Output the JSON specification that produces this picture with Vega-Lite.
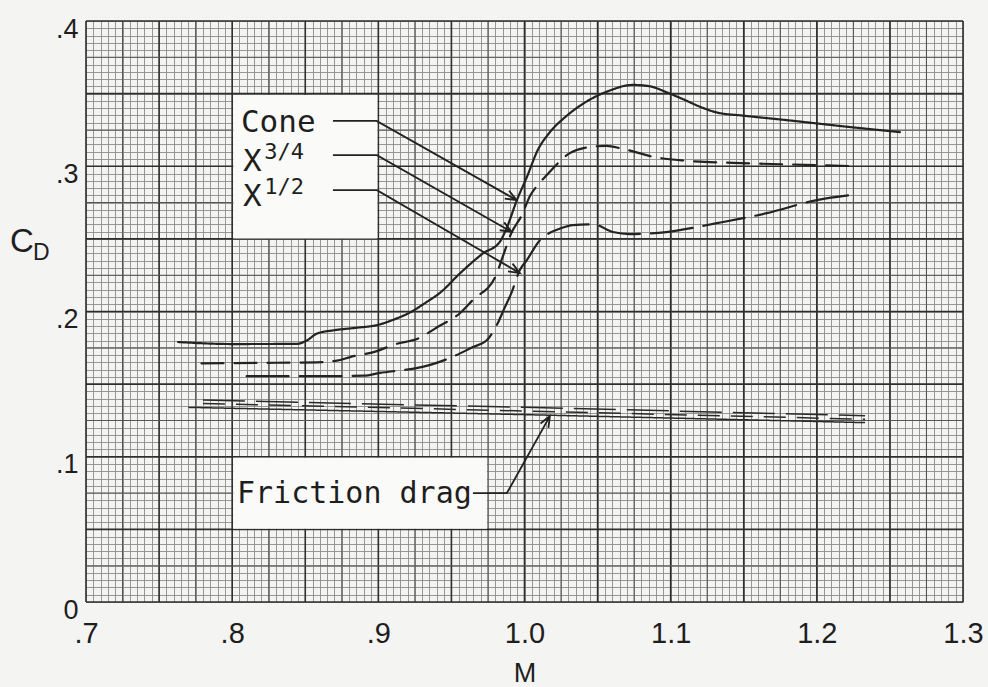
{
 "$schema": "https://vega.github.io/schema/vega-lite/v6.json",
 "width": 877, "height": 581,
 "autosize": {"type": "none"},
 "padding": {"left": 86, "top": 21, "right": 25, "bottom": 85},
 "background": "#f4f4f2",
 "config": {
  "view": {"stroke": null},
  "font": "Liberation Sans",
  "axisX": {"tickCount": 120, "grid": true, "gridColor": "#8c8c8c", "gridWidth": 0.9,
   "domain": false, "ticks": false, "labelOverlap": false, "labelFlush": false,
   "labelExpr": "abs(datum.value*10 - round(datum.value*10)) < 0.01 ? (datum.value < 0.99 ? replace(format(datum.value, '.1f'), '0.', '.') : format(datum.value, '.1f')) : ''",
   "labelFont": "Liberation Sans", "labelFontSize": 29, "labelColor": "#1e1e1e", "labelPadding": 17,
   "titleFont": "Liberation Sans", "titleFontSize": 27, "titleFontWeight": "normal", "titleColor": "#1e1e1e", "titlePadding": 12},
  "axisY": {"tickCount": 80, "grid": true, "gridColor": "#8c8c8c", "gridWidth": 0.9,
   "domain": false, "ticks": false, "labelOverlap": false, "labelFlush": false,
   "labelExpr": "abs(datum.value*10 - round(datum.value*10)) < 0.01 ? (abs(datum.value) < 0.001 ? '0' : replace(format(datum.value, '.1f'), '0.', '.')) : ''",
   "labelFont": "Liberation Sans", "labelFontSize": 27, "labelColor": "#1e1e1e", "labelPadding": 8, "labelOffset": 8}
 },
 "datasets": {
  "xmajor": [{"M":0.7},{"M":0.75},{"M":0.8},{"M":0.85},{"M":0.9},{"M":0.95},{"M":1.0},{"M":1.05},{"M":1.1},{"M":1.15},{"M":1.2},{"M":1.25},{"M":1.3}],
  "xmid": [{"M":0.725},{"M":0.775},{"M":0.825},{"M":0.875},{"M":0.925},{"M":0.975},{"M":1.025},{"M":1.075},{"M":1.125},{"M":1.175},{"M":1.225},{"M":1.275}],
  "ymajor": [{"CD":0},{"CD":0.05},{"CD":0.1},{"CD":0.15},{"CD":0.2},{"CD":0.25},{"CD":0.3},{"CD":0.35},{"CD":0.4}],
  "ymid": [{"CD":0.025},{"CD":0.075},{"CD":0.125},{"CD":0.175},{"CD":0.225},{"CD":0.275},{"CD":0.325},{"CD":0.375}],
  "boxes": [
   {"M":0.8008,"M2":0.8993,"CD":0.2503,"CD2":0.349},
   {"M":0.8008,"M2":0.9743,"CD":0.0505,"CD2":0.0993}
  ],
  "curves": [
   {"model":"Cone","part":"total","M":0.763,"CD":0.179},
   {"model":"Cone","part":"total","M":0.80,"CD":0.1776},
   {"model":"Cone","part":"total","M":0.844,"CD":0.1777},
   {"model":"Cone","part":"total","M":0.851,"CD":0.18},
   {"model":"Cone","part":"total","M":0.858,"CD":0.1848},
   {"model":"Cone","part":"total","M":0.869,"CD":0.187},
   {"model":"Cone","part":"total","M":0.885,"CD":0.1888},
   {"model":"Cone","part":"total","M":0.899,"CD":0.1906},
   {"model":"Cone","part":"total","M":0.912,"CD":0.195},
   {"model":"Cone","part":"total","M":0.922,"CD":0.1995},
   {"model":"Cone","part":"total","M":0.933,"CD":0.2065},
   {"model":"Cone","part":"total","M":0.942,"CD":0.2127},
   {"model":"Cone","part":"total","M":0.956,"CD":0.2264},
   {"model":"Cone","part":"total","M":0.9716,"CD":0.24},
   {"model":"Cone","part":"total","M":0.983,"CD":0.2478},
   {"model":"Cone","part":"total","M":0.988,"CD":0.258},
   {"model":"Cone","part":"total","M":0.9948,"CD":0.2767},
   {"model":"Cone","part":"total","M":1.0016,"CD":0.2925},
   {"model":"Cone","part":"total","M":1.009,"CD":0.311},
   {"model":"Cone","part":"total","M":1.017,"CD":0.323},
   {"model":"Cone","part":"total","M":1.028,"CD":0.334},
   {"model":"Cone","part":"total","M":1.04,"CD":0.343},
   {"model":"Cone","part":"total","M":1.058,"CD":0.352},
   {"model":"Cone","part":"total","M":1.074,"CD":0.356},
   {"model":"Cone","part":"total","M":1.086,"CD":0.355},
   {"model":"Cone","part":"total","M":1.097,"CD":0.351},
   {"model":"Cone","part":"total","M":1.11,"CD":0.3455},
   {"model":"Cone","part":"total","M":1.12,"CD":0.341},
   {"model":"Cone","part":"total","M":1.1316,"CD":0.337},
   {"model":"Cone","part":"total","M":1.15,"CD":0.3348},
   {"model":"Cone","part":"total","M":1.177,"CD":0.332},
   {"model":"Cone","part":"total","M":1.2226,"CD":0.327},
   {"model":"Cone","part":"total","M":1.2568,"CD":0.3235},
   {"model":"X3/4","part":"total","M":0.779,"CD":0.1643},
   {"model":"X3/4","part":"total","M":0.8,"CD":0.1645},
   {"model":"X3/4","part":"total","M":0.83,"CD":0.1647},
   {"model":"X3/4","part":"total","M":0.858,"CD":0.165},
   {"model":"X3/4","part":"total","M":0.874,"CD":0.1666},
   {"model":"X3/4","part":"total","M":0.8806,"CD":0.1686},
   {"model":"X3/4","part":"total","M":0.899,"CD":0.1727},
   {"model":"X3/4","part":"total","M":0.91,"CD":0.177},
   {"model":"X3/4","part":"total","M":0.9285,"CD":0.182},
   {"model":"X3/4","part":"total","M":0.94,"CD":0.189},
   {"model":"X3/4","part":"total","M":0.956,"CD":0.199},
   {"model":"X3/4","part":"total","M":0.9647,"CD":0.208},
   {"model":"X3/4","part":"total","M":0.98,"CD":0.2237},
   {"model":"X3/4","part":"total","M":0.985,"CD":0.2374},
   {"model":"X3/4","part":"total","M":0.991,"CD":0.254},
   {"model":"X3/4","part":"total","M":0.998,"CD":0.266},
   {"model":"X3/4","part":"total","M":1.004,"CD":0.28},
   {"model":"X3/4","part":"total","M":1.009,"CD":0.287},
   {"model":"X3/4","part":"total","M":1.0153,"CD":0.294},
   {"model":"X3/4","part":"total","M":1.031,"CD":0.309},
   {"model":"X3/4","part":"total","M":1.0427,"CD":0.313},
   {"model":"X3/4","part":"total","M":1.056,"CD":0.314},
   {"model":"X3/4","part":"total","M":1.067,"CD":0.312},
   {"model":"X3/4","part":"total","M":1.0906,"CD":0.306},
   {"model":"X3/4","part":"total","M":1.108,"CD":0.304},
   {"model":"X3/4","part":"total","M":1.154,"CD":0.302},
   {"model":"X3/4","part":"total","M":1.2,"CD":0.3008},
   {"model":"X3/4","part":"total","M":1.227,"CD":0.3},
   {"model":"X1/2","part":"total","M":0.8099,"CD":0.1555},
   {"model":"X1/2","part":"total","M":0.86,"CD":0.1555},
   {"model":"X1/2","part":"total","M":0.89,"CD":0.1558},
   {"model":"X1/2","part":"total","M":0.901,"CD":0.1577},
   {"model":"X1/2","part":"total","M":0.917,"CD":0.1597},
   {"model":"X1/2","part":"total","M":0.926,"CD":0.161},
   {"model":"X1/2","part":"total","M":0.949,"CD":0.168},
   {"model":"X1/2","part":"total","M":0.9647,"CD":0.1755},
   {"model":"X1/2","part":"total","M":0.974,"CD":0.18},
   {"model":"X1/2","part":"total","M":0.981,"CD":0.1906},
   {"model":"X1/2","part":"total","M":0.9866,"CD":0.203},
   {"model":"X1/2","part":"total","M":0.991,"CD":0.2127},
   {"model":"X1/2","part":"total","M":0.9968,"CD":0.2285},
   {"model":"X1/2","part":"total","M":1.0016,"CD":0.2354},
   {"model":"X1/2","part":"total","M":1.0105,"CD":0.249},
   {"model":"X1/2","part":"total","M":1.017,"CD":0.254},
   {"model":"X1/2","part":"total","M":1.024,"CD":0.257},
   {"model":"X1/2","part":"total","M":1.033,"CD":0.2595},
   {"model":"X1/2","part":"total","M":1.047,"CD":0.26},
   {"model":"X1/2","part":"total","M":1.0605,"CD":0.2547},
   {"model":"X1/2","part":"total","M":1.072,"CD":0.2533},
   {"model":"X1/2","part":"total","M":1.097,"CD":0.2547},
   {"model":"X1/2","part":"total","M":1.1316,"CD":0.2608},
   {"model":"X1/2","part":"total","M":1.1658,"CD":0.2677},
   {"model":"X1/2","part":"total","M":1.2,"CD":0.2767},
   {"model":"X1/2","part":"total","M":1.228,"CD":0.2808},
   {"model":"Cone","part":"friction","M":0.77,"CD":0.134},
   {"model":"Cone","part":"friction","M":1.0,"CD":0.129},
   {"model":"Cone","part":"friction","M":1.233,"CD":0.1235},
   {"model":"X3/4","part":"friction","M":0.78,"CD":0.1367},
   {"model":"X3/4","part":"friction","M":1.0,"CD":0.1315},
   {"model":"X3/4","part":"friction","M":1.233,"CD":0.1258},
   {"model":"X1/2","part":"friction","M":0.78,"CD":0.139},
   {"model":"X1/2","part":"friction","M":1.0,"CD":0.134},
   {"model":"X1/2","part":"friction","M":1.233,"CD":0.1283}
  ],
  "arrows": [
   {"arrow":"Cone","i":0,"M":0.86895,"CD":0.33125},
   {"arrow":"Cone","i":1,"M":0.89884,"CD":0.33125},
   {"arrow":"Cone","i":2,"M":0.99459,"CD":0.27667},
   {"arrow":"Cone","i":3,"M":0.98947,"CD":0.28314},
   {"arrow":"Cone","i":4,"M":0.99459,"CD":0.27667},
   {"arrow":"Cone","i":5,"M":0.98646,"CD":0.27777},
   {"arrow":"X3/4","i":0,"M":0.86895,"CD":0.30764},
   {"arrow":"X3/4","i":1,"M":0.89904,"CD":0.30764},
   {"arrow":"X3/4","i":2,"M":0.99118,"CD":0.25485},
   {"arrow":"X3/4","i":3,"M":0.98609,"CD":0.26134},
   {"arrow":"X3/4","i":4,"M":0.99118,"CD":0.25485},
   {"arrow":"X3/4","i":5,"M":0.98304,"CD":0.25595},
   {"arrow":"X1/2","i":0,"M":0.86895,"CD":0.28355},
   {"arrow":"X1/2","i":1,"M":0.89904,"CD":0.28355},
   {"arrow":"X1/2","i":2,"M":0.99685,"CD":0.22643},
   {"arrow":"X1/2","i":3,"M":0.99182,"CD":0.23295},
   {"arrow":"X1/2","i":4,"M":0.99685,"CD":0.22643},
   {"arrow":"X1/2","i":5,"M":0.98873,"CD":0.22759},
   {"arrow":"Friction","i":0,"M":0.96471,"CD":0.07502},
   {"arrow":"Friction","i":1,"M":0.98796,"CD":0.07502},
   {"arrow":"Friction","i":2,"M":1.01737,"CD":0.12801},
   {"arrow":"Friction","i":3,"M":1.01098,"CD":0.12284},
   {"arrow":"Friction","i":4,"M":1.01737,"CD":0.12801},
   {"arrow":"Friction","i":5,"M":1.01636,"CD":0.11982}
  ],
  "annot": [
   {"t":"Cone","M":0.806,"CD":0.3237,"role":"big"},
   {"t":"X","M":0.8074,"CD":0.2968,"role":"big"},
   {"t":"X","M":0.8074,"CD":0.2727,"role":"big"},
   {"t":"3/4","M":0.822,"CD":0.3052,"role":"sup"},
   {"t":"1/2","M":0.822,"CD":0.2808,"role":"sup"},
   {"t":"Friction drag","M":0.8033,"CD":0.0681,"role":"fric"},
   {"t":"C","M":0.648,"CD":0.2409,"role":"axis"},
   {"t":"D","M":0.6637,"CD":0.2354,"role":"axissub"}
  ]
 },
 "layer": [
  {
   "data": {"name": "xmajor"},
   "mark": {"type": "rule", "color": "#2e2e2e", "strokeWidth": 1.6},
   "encoding": {
    "x": {"field": "M", "type": "quantitative", "title": "M", "scale": {"domain": [0.7, 1.3], "nice": false, "zero": false}}
   }
  },
  {
   "data": {"name": "xmid"},
   "mark": {"type": "rule", "color": "#555555", "strokeWidth": 1.1},
   "encoding": {
    "x": {"field": "M", "type": "quantitative", "title": "M", "scale": {"domain": [0.7, 1.3], "nice": false, "zero": false}}
   }
  },
  {
   "data": {"name": "ymajor"},
   "mark": {"type": "rule", "color": "#2e2e2e", "strokeWidth": 1.6},
   "encoding": {
    "y": {"field": "CD", "type": "quantitative", "title": null, "scale": {"domain": [0, 0.4], "nice": false, "zero": false}}
   }
  },
  {
   "data": {"name": "ymid"},
   "mark": {"type": "rule", "color": "#555555", "strokeWidth": 1.1},
   "encoding": {
    "y": {"field": "CD", "type": "quantitative", "title": null, "scale": {"domain": [0, 0.4], "nice": false, "zero": false}}
   }
  },
  {
   "data": {"name": "boxes"},
   "mark": {"type": "rect", "fill": "#fafaf8", "stroke": null},
   "encoding": {
    "x": {"field": "M", "type": "quantitative", "title": "M", "scale": {"domain": [0.7, 1.3], "nice": false, "zero": false}},
    "x2": {"field": "M2"},
    "y": {"field": "CD", "type": "quantitative", "title": null, "scale": {"domain": [0, 0.4], "nice": false, "zero": false}},
    "y2": {"field": "CD2"}
   }
  },
  {
   "data": {"name": "curves"},
   "transform": [{"filter": "datum.part === 'total'"}],
   "mark": {"type": "line", "color": "#232323", "strokeWidth": 2.2, "strokeCap": "round", "interpolate": "monotone"},
   "encoding": {
    "x": {"field": "M", "type": "quantitative", "title": "M", "scale": {"domain": [0.7, 1.3], "nice": false, "zero": false}},
    "y": {"field": "CD", "type": "quantitative", "title": null, "scale": {"domain": [0, 0.4], "nice": false, "zero": false}},
    "strokeDash": {"field": "model", "type": "nominal", "legend": null,
     "scale": {"domain": ["Cone", "X3/4", "X1/2"], "range": [[1, 0], [22, 11], [42, 11]]}}
   }
  },
  {
   "data": {"name": "curves"},
   "transform": [{"filter": "datum.part === 'friction'"}],
   "mark": {"type": "line", "color": "#2a2a2a", "strokeWidth": 1.5},
   "encoding": {
    "x": {"field": "M", "type": "quantitative", "title": "M", "scale": {"domain": [0.7, 1.3], "nice": false, "zero": false}},
    "y": {"field": "CD", "type": "quantitative", "title": null, "scale": {"domain": [0, 0.4], "nice": false, "zero": false}},
    "strokeDash": {"field": "model", "type": "nominal", "legend": null,
     "scale": {"domain": ["Cone", "X3/4", "X1/2"], "range": [[1, 0], [22, 11], [42, 11]]}}
   }
  },
  {
   "data": {"name": "arrows"},
   "mark": {"type": "line", "color": "#222222", "strokeWidth": 1.8, "strokeJoin": "miter"},
   "encoding": {
    "x": {"field": "M", "type": "quantitative", "title": "M", "scale": {"domain": [0.7, 1.3], "nice": false, "zero": false}},
    "y": {"field": "CD", "type": "quantitative", "title": null, "scale": {"domain": [0, 0.4], "nice": false, "zero": false}},
    "detail": {"field": "arrow"},
    "order": {"field": "i", "type": "quantitative"}
   }
  },
  {
   "data": {"name": "annot"},
   "transform": [{"filter": "datum.role === 'big'"}],
   "mark": {"type": "text", "font": "DejaVu Sans Mono", "fontSize": 31, "color": "#1e1e1e", "align": "left", "baseline": "alphabetic"},
   "encoding": {
    "x": {"field": "M", "type": "quantitative", "title": "M", "scale": {"domain": [0.7, 1.3], "nice": false, "zero": false}},
    "y": {"field": "CD", "type": "quantitative", "title": null, "scale": {"domain": [0, 0.4], "nice": false, "zero": false}},
    "text": {"field": "t"}
   }
  },
  {
   "data": {"name": "annot"},
   "transform": [{"filter": "datum.role === 'sup'"}],
   "mark": {"type": "text", "font": "DejaVu Sans Mono", "fontSize": 22, "color": "#1e1e1e", "align": "left", "baseline": "alphabetic"},
   "encoding": {
    "x": {"field": "M", "type": "quantitative", "title": "M", "scale": {"domain": [0.7, 1.3], "nice": false, "zero": false}},
    "y": {"field": "CD", "type": "quantitative", "title": null, "scale": {"domain": [0, 0.4], "nice": false, "zero": false}},
    "text": {"field": "t"}
   }
  },
  {
   "data": {"name": "annot"},
   "transform": [{"filter": "datum.role === 'fric'"}],
   "mark": {"type": "text", "font": "DejaVu Sans Mono", "fontSize": 30, "color": "#1e1e1e", "align": "left", "baseline": "alphabetic"},
   "encoding": {
    "x": {"field": "M", "type": "quantitative", "title": "M", "scale": {"domain": [0.7, 1.3], "nice": false, "zero": false}},
    "y": {"field": "CD", "type": "quantitative", "title": null, "scale": {"domain": [0, 0.4], "nice": false, "zero": false}},
    "text": {"field": "t"}
   }
  },
  {
   "data": {"name": "annot"},
   "transform": [{"filter": "datum.role === 'axis'"}],
   "mark": {"type": "text", "font": "Liberation Sans", "fontSize": 33, "color": "#1e1e1e", "align": "left", "baseline": "alphabetic"},
   "encoding": {
    "x": {"field": "M", "type": "quantitative", "title": "M", "scale": {"domain": [0.7, 1.3], "nice": false, "zero": false}},
    "y": {"field": "CD", "type": "quantitative", "title": null, "scale": {"domain": [0, 0.4], "nice": false, "zero": false}},
    "text": {"field": "t"}
   }
  },
  {
   "data": {"name": "annot"},
   "transform": [{"filter": "datum.role === 'axissub'"}],
   "mark": {"type": "text", "font": "Liberation Sans", "fontSize": 23, "color": "#1e1e1e", "align": "left", "baseline": "alphabetic"},
   "encoding": {
    "x": {"field": "M", "type": "quantitative", "title": "M", "scale": {"domain": [0.7, 1.3], "nice": false, "zero": false}},
    "y": {"field": "CD", "type": "quantitative", "title": null, "scale": {"domain": [0, 0.4], "nice": false, "zero": false}},
    "text": {"field": "t"}
   }
  }
 ]
}
